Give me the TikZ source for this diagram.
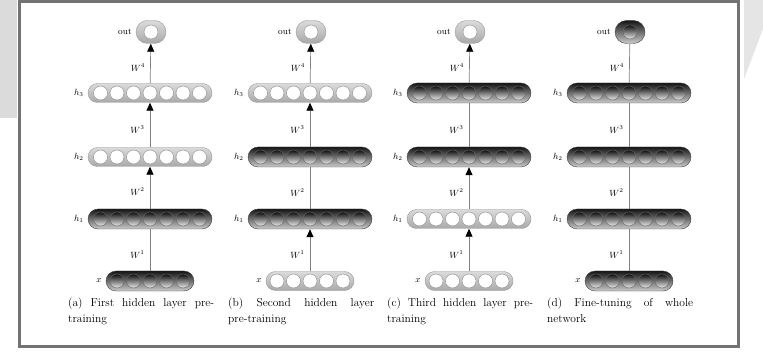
\documentclass[tikz,border=0pt]{standalone}
\usepackage{amsmath}
\usetikzlibrary{positioning,arrows.meta}
\tikzset{
    lightbox/.style={rectangle, rounded corners=9.5pt, minimum height=19pt, inner sep=0pt,
        top color=black!14, bottom color=black!34, draw=black!40, thin},
    darkbox/.style={rectangle, rounded corners=10pt, minimum height=20pt, inner sep=0pt,
        top color=black!92, bottom color=black!20, draw=black!75, thin},
    lightunit/.style={circle, minimum size=14pt, inner sep=0pt, fill=white, draw=black!45, thin},
    darkunit/.style={circle, minimum size=14pt, inner sep=0pt, top color=black!95,
        bottom color=black!8, draw=black!60, thin},
    layername/.style={font=\small, inner sep=1pt},
    wlabel/.style={pos=.4, left=4pt, font=\small, inner sep=1pt},
    plainlink/.style={draw=black!50, line width=.7pt},
    uplink/.style={plainlink, -{Triangle[width=7pt,length=8pt,color=black]}},
    caption/.style={anchor=north west, text width=146pt, align=justify, inner sep=0pt,
        font=\fontsize{11.5}{16}\selectfont}
}
% one layer: name, position, number of units, size, look, label
\newcommand{\netlayer}[6]{%
    \node[#5box, #4] (#1) at (#2) {};
    \foreach \k in {1,...,#3}
        \node[#5unit] (#1u\k) at ([xshift={(\k-(#3+1)/2)*16.5pt}]#1.center) {};
    \node[layername, left=3pt of #1] (#1l) {#6};
}
\begin{document}
\begin{tikzpicture}[x=1pt, y=1pt]
        \useasboundingbox (0,0) rectangle (763,359);
        \fill[black!14] (0,359) rectangle (17,241);
        \fill[black!10] (744,359) -- (763,359) -- (763,330) -- (744,280) -- cycle;
        \draw[draw=black!55, line width=3pt] (19,13) rectangle (738,357);

        % (a)
        \netlayer{a0}{150,78}{5}{minimum width=88pt}{dark}{$x$}
        \netlayer{a1}{150,140}{7}{minimum width=124pt}{dark}{$h_1$}
        \netlayer{a2}{150,202}{7}{minimum width=124pt}{light}{$h_2$}
        \netlayer{a3}{150,266}{7}{minimum width=124pt}{light}{$h_3$}
        \netlayer{a4}{151,327}{1}{minimum width=30pt, minimum height=23pt, rounded corners=11.5pt}{light}{out}
        \draw[plainlink] (a0) -- (a1) node[wlabel] {$W^1$};
        \draw[uplink] (a1) -- (a2) node[wlabel] {$W^2$};
        \draw[uplink] (a2) -- (a3) node[wlabel] {$W^3$};
        \draw[uplink] (a3) -- (a4) node[wlabel] {$W^4$};
        \node[caption] (capa) at (68,61) {(a) First hidden layer pre-\linebreak training};

        % (b)
        \netlayer{b0}{310,78}{5}{minimum width=88pt}{light}{$x$}
        \netlayer{b1}{310,140}{7}{minimum width=124pt}{dark}{$h_1$}
        \netlayer{b2}{310,202}{7}{minimum width=124pt}{dark}{$h_2$}
        \netlayer{b3}{310,266}{7}{minimum width=124pt}{light}{$h_3$}
        \netlayer{b4}{311,327}{1}{minimum width=30pt, minimum height=23pt, rounded corners=11.5pt}{light}{out}
        \draw[uplink] (b0) -- (b1) node[wlabel] {$W^1$};
        \draw[plainlink] (b1) -- (b2) node[wlabel] {$W^2$};
        \draw[uplink] (b2) -- (b3) node[wlabel] {$W^3$};
        \draw[uplink] (b3) -- (b4) node[wlabel] {$W^4$};
        \node[caption] (capb) at (228,61) {(b) Second hidden layer\linebreak pre-training};

        % (c)
        \netlayer{c0}{469,78}{5}{minimum width=88pt}{light}{$x$}
        \netlayer{c1}{469,140}{7}{minimum width=124pt}{light}{$h_1$}
        \netlayer{c2}{469,202}{7}{minimum width=124pt}{dark}{$h_2$}
        \netlayer{c3}{469,266}{7}{minimum width=124pt}{dark}{$h_3$}
        \netlayer{c4}{470,327}{1}{minimum width=30pt, minimum height=23pt, rounded corners=11.5pt}{light}{out}
        \draw[uplink] (c0) -- (c1) node[wlabel] {$W^1$};
        \draw[uplink] (c1) -- (c2) node[wlabel] {$W^2$};
        \draw[plainlink] (c2) -- (c3) node[wlabel] {$W^3$};
        \draw[uplink] (c3) -- (c4) node[wlabel] {$W^4$};
        \node[caption] (capc) at (387,61) {(c) Third hidden layer pre-\linebreak training};

        % (d)
        \netlayer{d0}{629,78}{5}{minimum width=88pt}{dark}{$x$}
        \netlayer{d1}{629,140}{7}{minimum width=124pt}{dark}{$h_1$}
        \netlayer{d2}{629,202}{7}{minimum width=124pt}{dark}{$h_2$}
        \netlayer{d3}{629,266}{7}{minimum width=124pt}{dark}{$h_3$}
        \netlayer{d4}{630,327}{1}{minimum width=30pt, minimum height=23pt, rounded corners=11.5pt}{dark}{out}
        \draw[plainlink] (d0) -- (d1) node[wlabel] {$W^1$};
        \draw[plainlink] (d1) -- (d2) node[wlabel] {$W^2$};
        \draw[plainlink] (d2) -- (d3) node[wlabel] {$W^3$};
        \draw[plainlink] (d3) -- (d4) node[wlabel] {$W^4$};
        \node[caption] (capd) at (547,61) {(d) Fine-tuning of whole\linebreak network};
\end{tikzpicture}
\end{document}
